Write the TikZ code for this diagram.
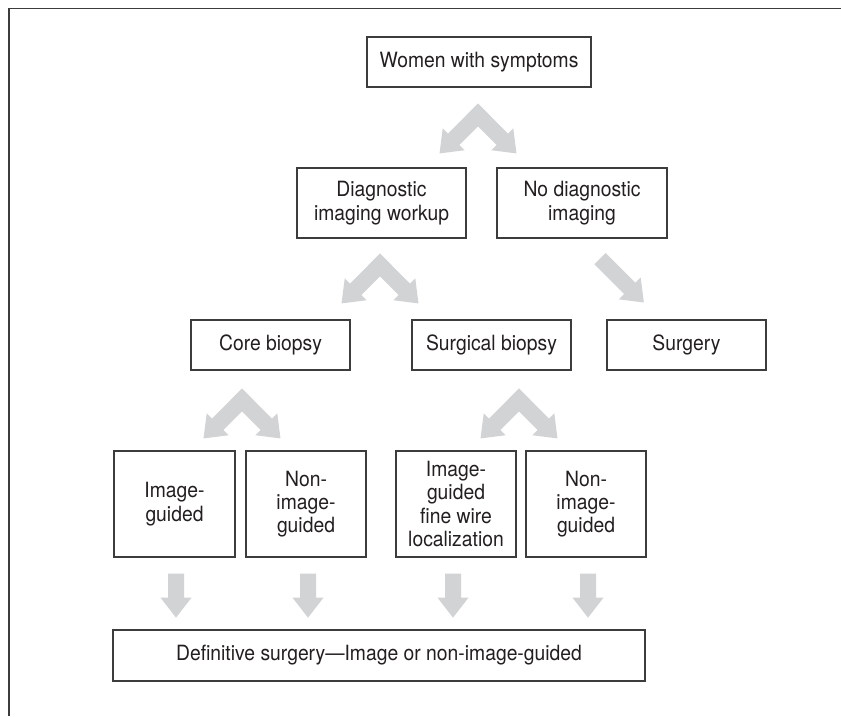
\documentclass[tikz,border=0pt]{standalone}
\usepackage{fontspec}
\setmainfont{TeX Gyre Heros}[FakeStretch=0.92]
\usetikzlibrary{calc}
\definecolor{arrowgray}{RGB}{210,211,213}
\definecolor{linegray}{RGB}{60,60,60}
\definecolor{textdark}{RGB}{35,31,32}
\tikzset{
  box/.style={draw=linegray, line width=1.3pt, text=textdark, align=center,
    inner sep=0pt, font=\fontsize{21}{23.3}\selectfont},
  frameline/.style={draw=linegray, line width=1.6pt},
  pics/bigarrow/.style 2 args={code={
    \fill[arrowgray] (-#2,-8) -- ({#1-20},-8) -- ({#1-20},-15.5) -- (#1,0)
      -- ({#1-20},15.5) -- ({#1-20},8) -- (-#2,8) -- cycle;}},
}
\begin{document}
\begin{tikzpicture}[x=1pt,y=-1pt]
\useasboundingbox (0,0) rectangle (841,716);
\fill[white] (0,0) rectangle (841,716);
\draw[frameline] (841,8.5) -- (9,8.5) -- (9,716);

\node[box, minimum width=224pt, minimum height=50pt] (women) at (479,62) {Women with symptoms};
\node[box, minimum width=169pt, minimum height=70pt] (diag) at (381.5,203) {Diagnostic\\imaging workup};
\node[box, minimum width=170pt, minimum height=70pt] (nodiag) at (582,203) {No diagnostic\\imaging};
\node[box, minimum width=159pt, minimum height=50pt] (core) at (270.5,345) {Core biopsy};
\node[box, minimum width=159pt, minimum height=50pt] (surgbx) at (491.5,345) {Surgical biopsy};
\node[box, minimum width=159pt, minimum height=50pt] (surgery) at (686.5,345) {Surgery};
\node[box, minimum width=121pt, minimum height=106pt] (ig) at (174.5,504) {Image-\\guided};
\node[box, minimum width=120pt, minimum height=106pt] (nig1) at (306,504) {Non-\\image-\\guided};
\node[box, minimum width=120pt, minimum height=106pt] (igfw) at (456,504) {Image-\\guided\\fine wire\\localization};
\node[box, minimum width=120pt, minimum height=106pt] (nig2) at (586,504) {Non-\\image-\\guided};
\node[box, minimum width=532pt, minimum height=51pt] (def) at (379,655.5) {Definitive surgery—Image or non-image-guided};

% chevron apexes
\coordinate (ch1) at ($(women.south)+(-1,27.3)$);
\coordinate (ch2) at ($(diag.south)+(-1.5,26.3)$);
\coordinate (ch3) at ($(core.south)+(-28.5,29.3)$);
\coordinate (ch4) at ($(surgbx.south)+(27.5,29.3)$);
\foreach \c in {ch1,ch2,ch3,ch4}{
  \pic[rotate=225] at (\c) {bigarrow={54.4}{8}};
  \pic[rotate=315] at (\c) {bigarrow={54.4}{8}};
}
% single diagonal arrow
\coordinate (sd) at ($(nodiag.south)+(18,20)$);
\pic[rotate=315] at (sd) {bigarrow={62}{0}};
% down arrows
\coordinate (d1) at ($(ig.south)+(1.5,16)$);
\coordinate (d2) at ($(nig1.south)+(2,16)$);
\coordinate (d3) at ($(igfw.south)+(-3,16)$);
\coordinate (d4) at ($(nig2.south)+(2,16)$);
\foreach \c in {d1,d2,d3,d4}{
  \pic[rotate=270] at (\c) {bigarrow={44}{0}};
}
\end{tikzpicture}
\end{document}
